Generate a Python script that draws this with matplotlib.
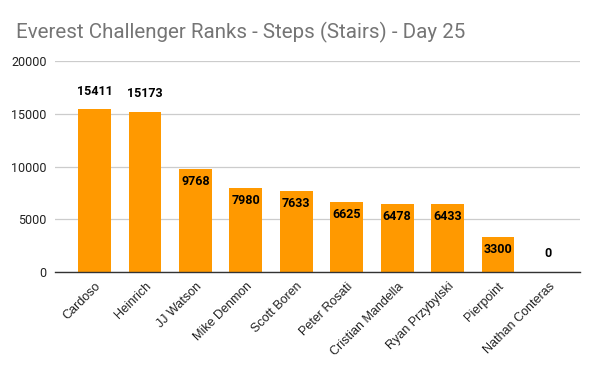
import matplotlib
matplotlib.use("Agg")
import matplotlib.pyplot as plt
from matplotlib.transforms import ScaledTranslation

names = ["Cardoso", "Heinrich", "JJ Watson", "Mike Denmon", "Scott Boren",
         "Peter Rosati", "Cristian Mandella", "Ryan Przybylski", "Pierpoint",
         "Nathan Conteras"]
steps = [15411, 15173, 9768, 7980, 7633, 6625, 6478, 6433, 3300, 0]
label_outside = [True, True, False, False, False, False, False, False, False, True]
yticks = [0, 5000, 10000, 15000, 20000]

plt.rcParams['font.family'] = ['Roboto', 'DejaVu Sans']

fig = plt.figure(figsize=(6, 3.71), dpi=100)
ax = fig.add_axes([0.092, 0.2668, 0.875, 0.5688])

x = list(range(len(names)))
ax.bar(x, steps, width=0.65, color="#ff9900", zorder=3)

ax.set_ylim(0, 20000)
ax.set_xlim(-0.78, len(names) - 1 + 0.63)
ax.set_yticks(yticks)
ax.set_yticklabels([str(v) for v in yticks], fontsize=9, color="#222222")
ax.set_xticks(x)
ax.set_xticklabels(names, rotation=45, ha="right", rotation_mode="anchor",
                   fontsize=9, color="#222222",
                   family=["Liberation Sans", "DejaVu Sans"])
offset = ScaledTranslation(6 / 100, 0, fig.dpi_scale_trans)
for lbl in ax.get_xticklabels():
    lbl.set_transform(lbl.get_transform() + offset)
ax.tick_params(axis="both", length=0)
ax.tick_params(axis="y", pad=6)
ax.tick_params(axis="x", pad=6)

ax.grid(axis="y", color="#cccccc", linewidth=0.9, zorder=0)
for s in ["top", "right", "left"]:
    ax.spines[s].set_visible(False)
ax.spines["bottom"].set_color("#333333")
ax.spines["bottom"].set_linewidth(1.0)
ax.spines["bottom"].set_zorder(4)

for xi, v, out in zip(x, steps, label_outside):
    if out:
        ax.annotate(str(v), (xi, v), xytext=(0, 13), textcoords="offset points",
                    ha="center", va="center", fontsize=9, fontweight="bold",
                    color="#000000", zorder=5)
    else:
        ax.annotate(str(v), (xi, v), xytext=(0, -9), textcoords="offset points",
                    ha="center", va="center", fontsize=9, fontweight="bold",
                    color="#000000", zorder=5)

fig.text(0.027, 0.913, "Everest Challenger Ranks - Steps (Stairs) - Day 25",
         fontsize=14.8, color="#757575", ha="left", va="center")

fig.savefig("out.png", dpi=100)
